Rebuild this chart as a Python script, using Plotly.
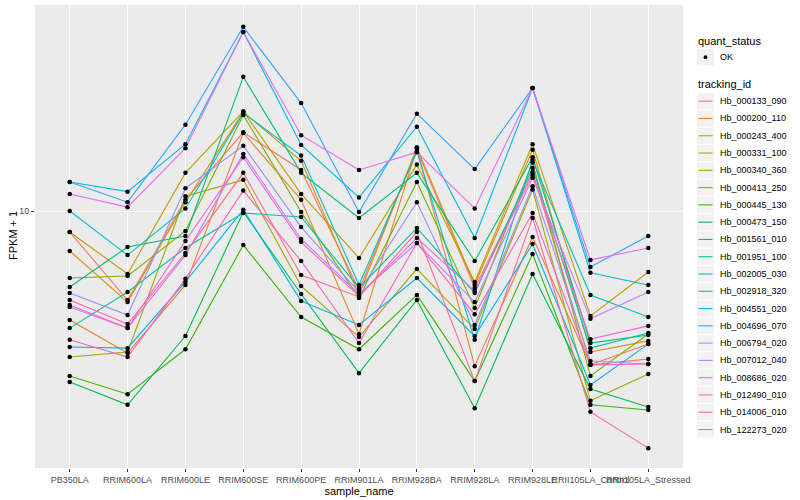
import plotly.graph_objects as go

samples = ["PB350LA", "RRIM600LA", "RRIM600LE", "RRIM600SE", "RRIM600PE", "RRIM901LA",
           "RRIM928BA", "RRIM928LA", "RRIM928LE", "RRII105LA_Control", "RRII105LA_Stressed"]

tracking_ids = ["Hb_000133_090", "Hb_000200_110", "Hb_000243_400", "Hb_000331_100", "Hb_000340_360",
                "Hb_000413_250", "Hb_000445_130", "Hb_000473_150", "Hb_001561_010", "Hb_001951_100",
                "Hb_002005_030", "Hb_002918_320", "Hb_004551_020", "Hb_004696_070", "Hb_006794_020",
                "Hb_007012_040", "Hb_008686_020", "Hb_012490_010", "Hb_014006_010", "Hb_122273_020"]

colors = ["#F8766D", "#EA8331", "#D89000", "#C09B00", "#A3A500", "#7CAE00", "#39B600", "#00BB4E",
          "#00BF7D", "#00C1A3", "#00BFC4", "#00BAE0", "#00B0F6", "#35A2FF", "#9590FF", "#C77CFF",
          "#E76BF3", "#FA62DB", "#FF62BC", "#FF6C91"]

# FPKM + 1 values, one list per tracking_id, in sample order
Hb_000133_090 = [8.51, 5.05, 10.9, 18.3, 13.7, 5.45, 16.0, 5.54, 13.5, 3.07, 3.60]
Hb_000200_110 = [4.33, 3.36, 5.67, 18.2, 10.9, 3.89, 16.2, 3.04, 8.19, 3.07, 3.21]
Hb_000243_400 = [7.36, 4.97, 10.7, 21.4, 14.7, 5.25, 16.3, 5.67, 16.0, 3.39, 3.69]
Hb_000331_100 = [8.51, 6.17, 13.4, 21.5, 11.4, 6.97, 14.3, 5.80, 16.7, 4.47, 6.26]
Hb_000340_360 = [3.26, 3.39, 11.2, 12.7, 5.62, 3.80, 6.41, 4.04, 11.8, 2.33, 2.86]
Hb_000413_250 = [5.98, 6.07, 8.58, 20.9, 9.92, 5.13, 12.5, 4.75, 14.5, 2.82, 3.89]
Hb_000445_130 = [2.82, 2.45, 3.46, 7.70, 4.43, 3.46, 5.25, 2.71, 7.19, 2.26, 2.17]
Hb_000473_150 = [2.69, 2.26, 3.83, 9.92, 5.29, 2.88, 5.05, 2.20, 6.17, 2.55, 2.22]
Hb_001561_010 = [5.58, 7.59, 8.25, 28.0, 13.4, 9.48, 13.4, 6.81, 15.1, 3.63, 3.86]
Hb_001951_100 = [4.07, 5.37, 7.53, 9.85, 9.55, 5.54, 8.78, 5.33, 13.9, 3.49, 3.92]
Hb_002005_030 = [10.0, 7.13, 10.2, 21.2, 15.3, 5.67, 15.8, 3.72, 14.8, 5.25, 4.43]
Hb_002918_320 = [12.5, 11.6, 16.7, 39.5, 16.6, 11.1, 19.1, 8.13, 25.7, 6.22, 5.67]
Hb_004551_020 = [3.52, 3.49, 5.80, 10.1, 5.01, 4.17, 5.98, 3.83, 7.76, 2.63, 3.60]
Hb_004696_070 = [12.5, 10.7, 19.4, 41.1, 22.9, 9.92, 21.1, 13.8, 25.7, 6.51, 8.25]
Hb_006794_020 = [5.33, 4.50, 11.9, 16.5, 8.84, 5.37, 10.7, 4.17, 12.1, 3.16, 3.09]
Hb_007012_040 = [4.79, 4.07, 7.13, 15.5, 8.07, 5.29, 7.82, 4.97, 12.9, 4.37, 5.37]
Hb_008686_020 = [11.4, 10.3, 16.2, 39.5, 17.9, 13.7, 15.7, 10.2, 25.7, 6.87, 7.53]
Hb_012490_010 = [4.86, 4.07, 7.94, 15.1, 7.88, 5.21, 8.13, 5.41, 13.2, 3.74, 4.14]
Hb_014006_010 = [3.72, 3.26, 5.94, 11.7, 6.81, 3.63, 7.82, 4.53, 9.85, 3.07, 3.09]
Hb_122273_020 = [5.05, 4.20, 7.24, 13.4, 6.12, 5.17, 8.51, 2.71, 9.48, 2.14, 1.62]

series = [Hb_000133_090, Hb_000200_110, Hb_000243_400, Hb_000331_100, Hb_000340_360,
          Hb_000413_250, Hb_000445_130, Hb_000473_150, Hb_001561_010, Hb_001951_100,
          Hb_002005_030, Hb_002918_320, Hb_004551_020, Hb_004696_070, Hb_006794_020,
          Hb_007012_040, Hb_008686_020, Hb_012490_010, Hb_014006_010, Hb_122273_020]

FONT = "Liberation Sans, Arial, Helvetica, sans-serif"

# plot area in pixels
W, H = 800, 500
L, R, T, B = 35, 117, 5, 32
PW, PH = W - L - R, H - T - B


def px(xp):
    return (xp - L) / PW


def py(yp):
    return (H - B - yp) / PH


fig = go.Figure()
for tid, vals, col in zip(tracking_ids, series, colors):
    fig.add_trace(go.Scatter(
        x=samples, y=vals, mode="lines", name=tid, showlegend=False,
        line=dict(color=col, width=1.1), hoverinfo="x+y+name"))

all_x = [s for vals in series for s in samples]
all_y = [v for vals in series for v in vals]
fig.add_trace(go.Scatter(
    x=all_x, y=all_y, mode="markers", name="OK", showlegend=False,
    marker=dict(color="black", size=4.5)))

# ---- hand-built ggplot-style legend ----
shapes = []
annotations = []
KEY_L, KEY_R = 697, 714
TEXT_X = 718
STEP = 17.28

annotations.append(dict(xref="paper", yref="paper", x=px(696), y=py(41), text="quant_status",
                        showarrow=False, xanchor="left", yanchor="middle",
                        font=dict(size=11, color="black")))
shapes.append(dict(type="rect", xref="paper", yref="paper", x0=px(KEY_L), x1=px(KEY_R),
                   y0=py(49), y1=py(65.5), fillcolor="#F2F2F2", line=dict(width=0), layer="above"))
shapes.append(dict(type="circle", xref="paper", yref="paper", x0=px(703.6), x1=px(707.4),
                   y0=py(55.3), y1=py(59.1), fillcolor="black", line=dict(width=0), layer="above"))
annotations.append(dict(xref="paper", yref="paper", x=px(TEXT_X), y=py(57.3), text="OK",
                        showarrow=False, xanchor="left", yanchor="middle",
                        font=dict(size=9, color="black")))

annotations.append(dict(xref="paper", yref="paper", x=px(696), y=py(84), text="tracking_id",
                        showarrow=False, xanchor="left", yanchor="middle",
                        font=dict(size=11, color="black")))
for i, (tid, col) in enumerate(zip(tracking_ids, colors)):
    cy = 101.2 + i * STEP
    shapes.append(dict(type="rect", xref="paper", yref="paper", x0=px(KEY_L), x1=px(KEY_R),
                       y0=py(cy - 8.1), y1=py(cy + 8.1), fillcolor="#F2F2F2",
                       line=dict(width=0), layer="above"))
    shapes.append(dict(type="line", xref="paper", yref="paper", x0=px(698.5), x1=px(712.5),
                       y0=py(cy), y1=py(cy), line=dict(color=col, width=1.1), layer="above"))
    annotations.append(dict(xref="paper", yref="paper", x=px(TEXT_X), y=py(cy), text=tid,
                            showarrow=False, xanchor="left", yanchor="middle",
                            font=dict(size=9, color="black")))

# y-axis title placed like ggplot's
annotations.append(dict(xref="paper", yref="paper", x=px(13), y=py(236), text="FPKM + 1",
                        textangle=-90, showarrow=False, xanchor="center", yanchor="middle",
                        font=dict(size=11, color="black")))

fig.update_layout(
    width=W, height=H,
    margin=dict(l=L, r=R, t=T, b=B, autoexpand=False),
    paper_bgcolor="white", plot_bgcolor="#EBEBEB",
    font=dict(family=FONT, size=11, color="black"),
    showlegend=False,
    shapes=shapes, annotations=annotations,
    xaxis=dict(type="category", categoryorder="array", categoryarray=samples,
               range=[-0.6, 10.6], showgrid=True, gridcolor="white", gridwidth=1.1,
               zeroline=False, showline=False, ticks="outside", ticklen=3,
               tickcolor="#333333", tickangle=0, tickfont=dict(size=9, color="#4D4D4D"),
               automargin=False,
               title=dict(text="sample_name", font=dict(size=11, color="black"), standoff=0)),
    yaxis=dict(type="log", range=[0.1433, 1.6867], tickvals=[10], ticktext=["10"],
               showgrid=True, gridcolor="white", gridwidth=1.1, zeroline=False,
               ticks="outside", ticklen=3, tickcolor="#333333", automargin=False,
               tickfont=dict(size=9, color="#4D4D4D")),
)

fig.write_html("out.html", config=dict(displayModeBar=False),
               post_script="document.body.style.margin='0';document.body.style.overflow='hidden';")
